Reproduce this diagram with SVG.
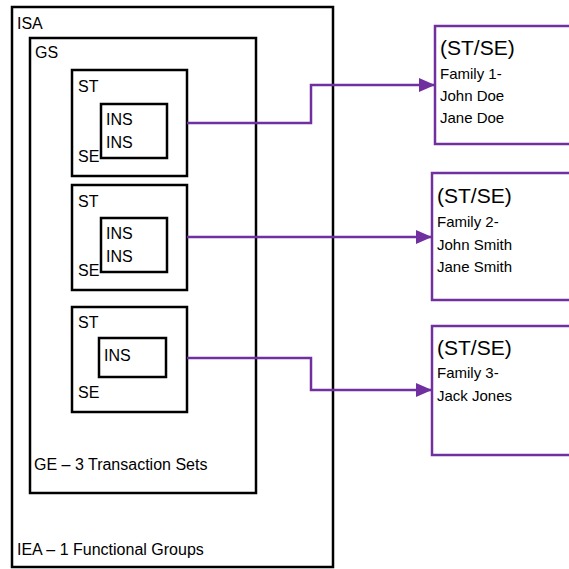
<svg xmlns="http://www.w3.org/2000/svg" width="569" height="569" viewBox="0 0 569 569">
<style>
.box{fill:none;stroke:#000;stroke-width:2.5}
.fam{fill:#fff;stroke:#7030A0;stroke-width:2.5}
.conn{fill:none;stroke:#7030A0;stroke-width:2.5}
text{font-family:"Liberation Sans",Arial,sans-serif;font-size:16px;fill:#000}
.sm{font-size:15px}
.big{font-size:21px}
</style>
<defs>
<marker id="arr" markerWidth="16" markerHeight="14" refX="15" refY="7" orient="auto" markerUnits="userSpaceOnUse">
<path d="M0,0 L16,7 L0,14 Z" fill="#7030A0"/>
</marker>
</defs>
<rect width="569" height="569" fill="#fff"/>
<g id="isa">
<rect class="box" x="12" y="7" width="321" height="560"/>
<text x="17" y="29">ISA</text>
<text x="17" y="555">IEA – 1 Functional Groups</text>
</g>
<g id="gs">
<rect class="box" x="30" y="38" width="226" height="455"/>
<text x="35" y="58">GS</text>
<text x="34" y="470">GE – 3 Transaction Sets</text>
</g>
<g id="st1">
<rect class="box" x="72" y="70" width="115" height="106"/>
<text x="78" y="92">ST</text>
<text x="78" y="162">SE</text>
<rect class="box" x="101" y="104" width="66" height="54"/>
<text x="106" y="125">INS</text>
<text x="106" y="148">INS</text>
</g>
<g id="st2">
<rect class="box" x="72" y="185" width="115" height="105"/>
<text x="78" y="207">ST</text>
<text x="78" y="276">SE</text>
<rect class="box" x="101" y="218" width="66" height="54"/>
<text x="106" y="239">INS</text>
<text x="106" y="262">INS</text>
</g>
<g id="st3">
<rect class="box" x="72" y="307" width="115" height="105"/>
<text x="78" y="328">ST</text>
<text x="78" y="398">SE</text>
<rect class="box" x="99" y="338" width="67" height="39"/>
<text x="104" y="361">INS</text>
</g>
<g id="fam1">
<rect class="fam" x="435" y="26" width="150" height="118"/>
<text class="big" x="440" y="55">(ST/SE)</text>
<text class="sm" x="440" y="79">Family 1-</text>
<text class="sm" x="440" y="101">John Doe</text>
<text class="sm" x="440" y="123">Jane Doe</text>
</g>
<g id="fam2">
<rect class="fam" x="432" y="173" width="150" height="127"/>
<text class="big" x="437" y="203">(ST/SE)</text>
<text class="sm" x="437" y="227">Family 2-</text>
<text class="sm" x="437" y="250">John Smith</text>
<text class="sm" x="437" y="272">Jane Smith</text>
</g>
<g id="fam3">
<rect class="fam" x="432" y="326" width="150" height="129"/>
<text class="big" x="437" y="355">(ST/SE)</text>
<text class="sm" x="437" y="378">Family 3-</text>
<text class="sm" x="437" y="401">Jack Jones</text>
</g>
<g id="connectors">
<path class="conn" d="M187,123 H311 V85 H434" marker-end="url(#arr)"/>
<path class="conn" d="M187,237 H431" marker-end="url(#arr)"/>
<path class="conn" d="M187,358 H311 V390 H431" marker-end="url(#arr)"/>
</g>
</svg>
